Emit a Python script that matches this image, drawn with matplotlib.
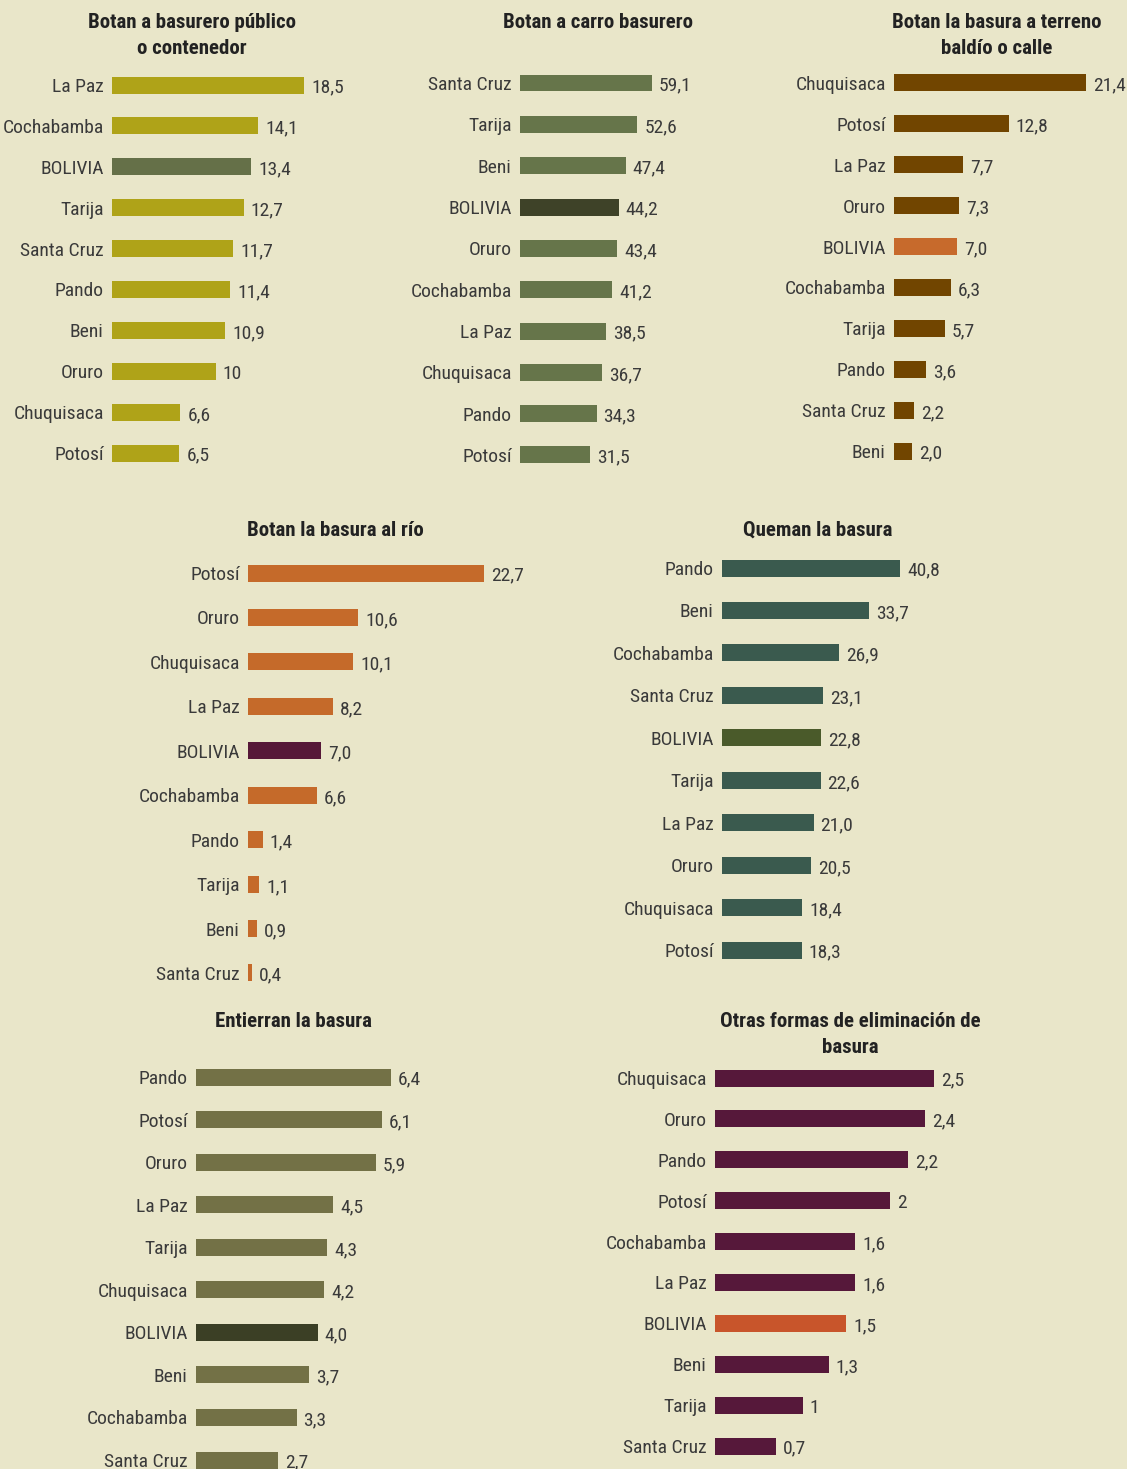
import matplotlib.pyplot as plt
from matplotlib import font_manager

# buscar una fuente condensada instalada
fonts = font_manager.fontManager.ttflist
reg_font = None
bold_font = None
for key in ['Roboto Condensed', 'Open Sans Condensed', 'Liberation Sans Narrow', 'Noto Sans Condensed']:
    for f in fonts:
        if f.name == key and f.style == 'normal':
            if f.weight in (400, 'normal', 'regular') and reg_font is None:
                reg_font = f.fname
            if f.weight in (700, 'bold') and bold_font is None:
                bold_font = f.fname
    if reg_font:
        break
if reg_font is None:
    for f in fonts:
        if f.name.startswith('DejaVu Sans') and f.stretch == 'condensed' and f.style == 'normal' \
                and 'Mono' not in f.name:
            if f.weight in (400, 'normal') and reg_font is None:
                reg_font = f.fname
            if f.weight in (700, 'bold') and bold_font is None:
                bold_font = f.fname

if reg_font:
    fp = font_manager.FontProperties(fname=reg_font, size=14)
else:
    fp = font_manager.FontProperties(family='DejaVu Sans', size=12)
if bold_font:
    fpb = font_manager.FontProperties(fname=bold_font, size=15)
else:
    fpb = fp.copy()
    fpb.set_weight('bold')

W, H = 1127, 1469
BG = '#E9E6C9'

# --- datos ---
cat1 = ['La Paz', 'Cochabamba', 'BOLIVIA', 'Tarija', 'Santa Cruz', 'Pando', 'Beni', 'Oruro', 'Chuquisaca', 'Potosí']
val1 = [18.5, 14.1, 13.4, 12.7, 11.7, 11.4, 10.9, 10, 6.6, 6.5]
lab1 = ['18,5', '14,1', '13,4', '12,7', '11,7', '11,4', '10,9', '10', '6,6', '6,5']

cat2 = ['Santa Cruz', 'Tarija', 'Beni', 'BOLIVIA', 'Oruro', 'Cochabamba', 'La Paz', 'Chuquisaca', 'Pando', 'Potosí']
val2 = [59.1, 52.6, 47.4, 44.2, 43.4, 41.2, 38.5, 36.7, 34.3, 31.5]
lab2 = ['59,1', '52,6', '47,4', '44,2', '43,4', '41,2', '38,5', '36,7', '34,3', '31,5']

cat3 = ['Chuquisaca', 'Potosí', 'La Paz', 'Oruro', 'BOLIVIA', 'Cochabamba', 'Tarija', 'Pando', 'Santa Cruz', 'Beni']
val3 = [21.4, 12.8, 7.7, 7.3, 7.0, 6.3, 5.7, 3.6, 2.2, 2.0]
lab3 = ['21,4', '12,8', '7,7', '7,3', '7,0', '6,3', '5,7', '3,6', '2,2', '2,0']

cat4 = ['Potosí', 'Oruro', 'Chuquisaca', 'La Paz', 'BOLIVIA', 'Cochabamba', 'Pando', 'Tarija', 'Beni', 'Santa Cruz']
val4 = [22.7, 10.6, 10.1, 8.2, 7.0, 6.6, 1.4, 1.1, 0.9, 0.4]
lab4 = ['22,7', '10,6', '10,1', '8,2', '7,0', '6,6', '1,4', '1,1', '0,9', '0,4']

cat5 = ['Pando', 'Beni', 'Cochabamba', 'Santa Cruz', 'BOLIVIA', 'Tarija', 'La Paz', 'Oruro', 'Chuquisaca', 'Potosí']
val5 = [40.8, 33.7, 26.9, 23.1, 22.8, 22.6, 21.0, 20.5, 18.4, 18.3]
lab5 = ['40,8', '33,7', '26,9', '23,1', '22,8', '22,6', '21,0', '20,5', '18,4', '18,3']

cat6 = ['Pando', 'Potosí', 'Oruro', 'La Paz', 'Tarija', 'Chuquisaca', 'BOLIVIA', 'Beni', 'Cochabamba', 'Santa Cruz']
val6 = [6.4, 6.1, 5.9, 4.5, 4.3, 4.2, 4.0, 3.7, 3.3, 2.7]
lab6 = ['6,4', '6,1', '5,9', '4,5', '4,3', '4,2', '4,0', '3,7', '3,3', '2,7']

cat7 = ['Chuquisaca', 'Oruro', 'Pando', 'Potosí', 'Cochabamba', 'La Paz', 'BOLIVIA', 'Beni', 'Tarija', 'Santa Cruz']
val7 = [2.5, 2.4, 2.2, 2, 1.6, 1.6, 1.5, 1.3, 1, 0.7]
lab7 = ['2,5', '2,4', '2,2', '2', '1,6', '1,6', '1,5', '1,3', '1', '0,7']

fig = plt.figure(figsize=(W / 100, H / 100), dpi=100)
fig.patch.set_facecolor(BG)


def panel(cats, vals, labs, color, bcolor, title, x0, x1, ytop, ybot, tx, ty):
    n = len(cats)
    s = (ybot - ytop) / (n - 1)
    top = ytop - s / 2
    bot = ybot + s / 2
    ax = fig.add_axes([x0 / W, 1 - bot / H, (x1 - x0) / W, (bot - top) / H])
    ax.set_facecolor('none')
    cols = [bcolor if c == 'BOLIVIA' else color for c in cats]
    ax.barh(range(n), vals, height=17 / s, color=cols)
    ax.set_xlim(0, max(vals))
    ax.set_ylim(n - 0.5, -0.5)
    for sp in ax.spines.values():
        sp.set_visible(False)
    ax.set_xticks([])
    ax.set_yticks(range(n))
    ax.set_yticklabels(cats, fontproperties=fp, color='#3a3a3a')
    ax.tick_params(axis='y', length=0, pad=6)
    for i, (v, l) in enumerate(zip(vals, labs)):
        ax.annotate(l, (v, i), xytext=(5, -2), textcoords='offset points',
                    va='center', ha='left', fontproperties=fp, color='#3a3a3a')
    fig.text(tx / W, 1 - ty / H, title, ha='center', va='top', fontproperties=fpb,
             color='#222222', linespacing=1.45)


panel(cat1, val1, lab1, '#AFA318', '#657048', 'Botan a basurero público\no contenedor',
      112, 304, 85, 453, 192, 13)
panel(cat2, val2, lab2, '#66754A', '#3E4228', 'Botan a carro basurero',
      520, 652, 83, 455, 598, 13)
panel(cat3, val3, lab3, '#714500', '#C76A2C', 'Botan la basura a terreno\nbaldío o calle',
      894, 1086, 83, 451, 997, 13)
panel(cat4, val4, lab4, '#C56A2A', '#561838', 'Botan la basura al río',
      248, 484, 573, 973, 335, 521)
panel(cat5, val5, lab5, '#3A5A4E', '#4A5A2A', 'Queman la basura',
      722, 900, 568, 950, 818, 521)
panel(cat6, val6, lab6, '#737146', '#3B3F25', 'Entierran la basura',
      196, 391, 1077, 1460, 293, 1012)
panel(cat7, val7, lab7, '#56183A', '#C8552B', 'Otras formas de eliminación de\nbasura',
      715, 934, 1078, 1446, 850, 1012)

fig.savefig('out.png', dpi=100, facecolor=BG)
